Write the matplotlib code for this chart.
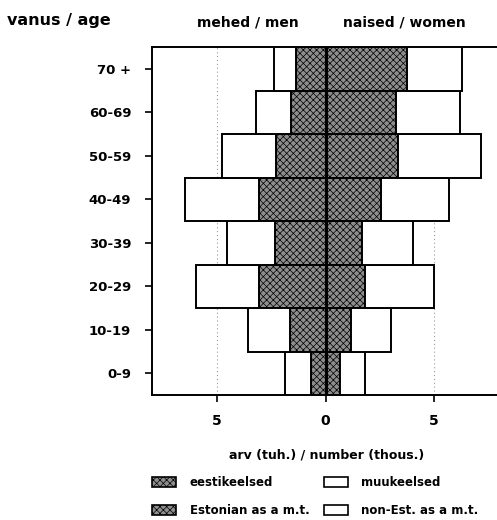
import matplotlib
matplotlib.use("Agg")
import matplotlib.pyplot as plt
from matplotlib.patches import Rectangle
import numpy as np

# age groups from youngest to oldest
age_groups = ["0-9", "10-19", "20-29", "30-39", "40-49", "50-59", "60-69", "70 +"]

# thousands of persons, by mother tongue
men_estonian = [0.66, 1.62, 3.05, 2.31, 3.05, 2.26, 1.57, 1.34]
men_other = [1.23, 1.96, 2.92, 2.23, 3.41, 2.51, 1.63, 1.04]
women_estonian = [0.69, 1.18, 1.82, 1.66, 2.57, 3.34, 3.23, 3.77]
women_other = [1.11, 1.85, 3.18, 2.37, 3.12, 3.81, 2.97, 2.51]

xticks = [-5, 0, 5]
xticklabels = ["5", "0", "5"]

W, H = 497, 520
plt.rcParams["font.family"] = "DejaVu Sans"
plt.rcParams["font.weight"] = "bold"
plt.rcParams["hatch.linewidth"] = 0.5

fig = plt.figure(figsize=(W / 100, H / 100), dpi=100)


def fx(x):
    return x / W


def fy(y):
    return 1 - y / H


ax = fig.add_axes([fx(152), fy(395), fx(347), (395 - 47) / H])

EST_FACE = "#8e8e8e"
y = np.arange(len(age_groups))
est_style = dict(height=1.0, facecolor=EST_FACE, edgecolor="black",
                 hatch="xxxxx", linewidth=1.4, zorder=3)
oth_style = dict(height=1.0, facecolor="white", edgecolor="black",
                 linewidth=1.4, zorder=3)

men_e = np.array(men_estonian)
women_e = np.array(women_estonian)
ax.barh(y, -men_e, **est_style)
ax.barh(y, -np.array(men_other), left=-men_e, **oth_style)
ax.barh(y, women_e, **est_style)
ax.barh(y, np.array(women_other), left=women_e, **oth_style)

ax.axvline(0, color="black", linewidth=2.2, zorder=4)
for v in (-5, 5):
    ax.axvline(v, color="#999999", linestyle=(0, (1, 2.5)), linewidth=0.8, zorder=1)

ax.set_xlim(-8, 8)
ax.set_ylim(-0.5, len(age_groups) - 0.5)
ax.set_yticks(y)
ax.set_yticklabels(age_groups, fontsize=9.5, fontweight="bold")
ax.set_xticks(xticks)
ax.set_xticklabels(xticklabels, fontsize=10, fontweight="bold")
ax.tick_params(axis="y", length=5, width=1.2, pad=10)
ax.tick_params(axis="x", length=5, width=1.2, pad=9)
ax.spines["right"].set_visible(False)
for s in ("left", "top", "bottom"):
    ax.spines[s].set_linewidth(1.4)

# headings
fig.text(fx(7), fy(20), "vanus / age", fontsize=11.5, fontweight="bold",
         ha="left", va="center")
fig.text(fx(248), fy(23), "mehed / men", fontsize=10, fontweight="bold",
         ha="center", va="center")
fig.text(fx(404), fy(23), "naised / women", fontsize=10, fontweight="bold",
         ha="center", va="center")
fig.text(fx(327), fy(455), "arv (tuh.) / number (thous.)", fontsize=9,
         fontweight="bold", ha="center", va="center")

# legend
legend_rows = [("eestikeelsed", "muukeelsed"),
               ("Estonian as a m.t.", "non-Est. as a m.t.")]
for i, (left_lab, right_lab) in enumerate(legend_rows):
    yc = 482 + i * 28
    fig.add_artist(Rectangle((fx(152), fy(yc + 5)), fx(24), 10 / H,
                             transform=fig.transFigure, facecolor=EST_FACE,
                             edgecolor="black", hatch="xxxxx", linewidth=1.2))
    fig.add_artist(Rectangle((fx(324), fy(yc + 5)), fx(24), 10 / H,
                             transform=fig.transFigure, facecolor="white",
                             edgecolor="black", linewidth=1.2))
    fig.text(fx(190), fy(yc), left_lab, fontsize=8.5, fontweight="bold",
             ha="left", va="center")
    fig.text(fx(361), fy(yc), right_lab, fontsize=8.5, fontweight="bold",
             ha="left", va="center")

fig.savefig("out.png", dpi=100)
